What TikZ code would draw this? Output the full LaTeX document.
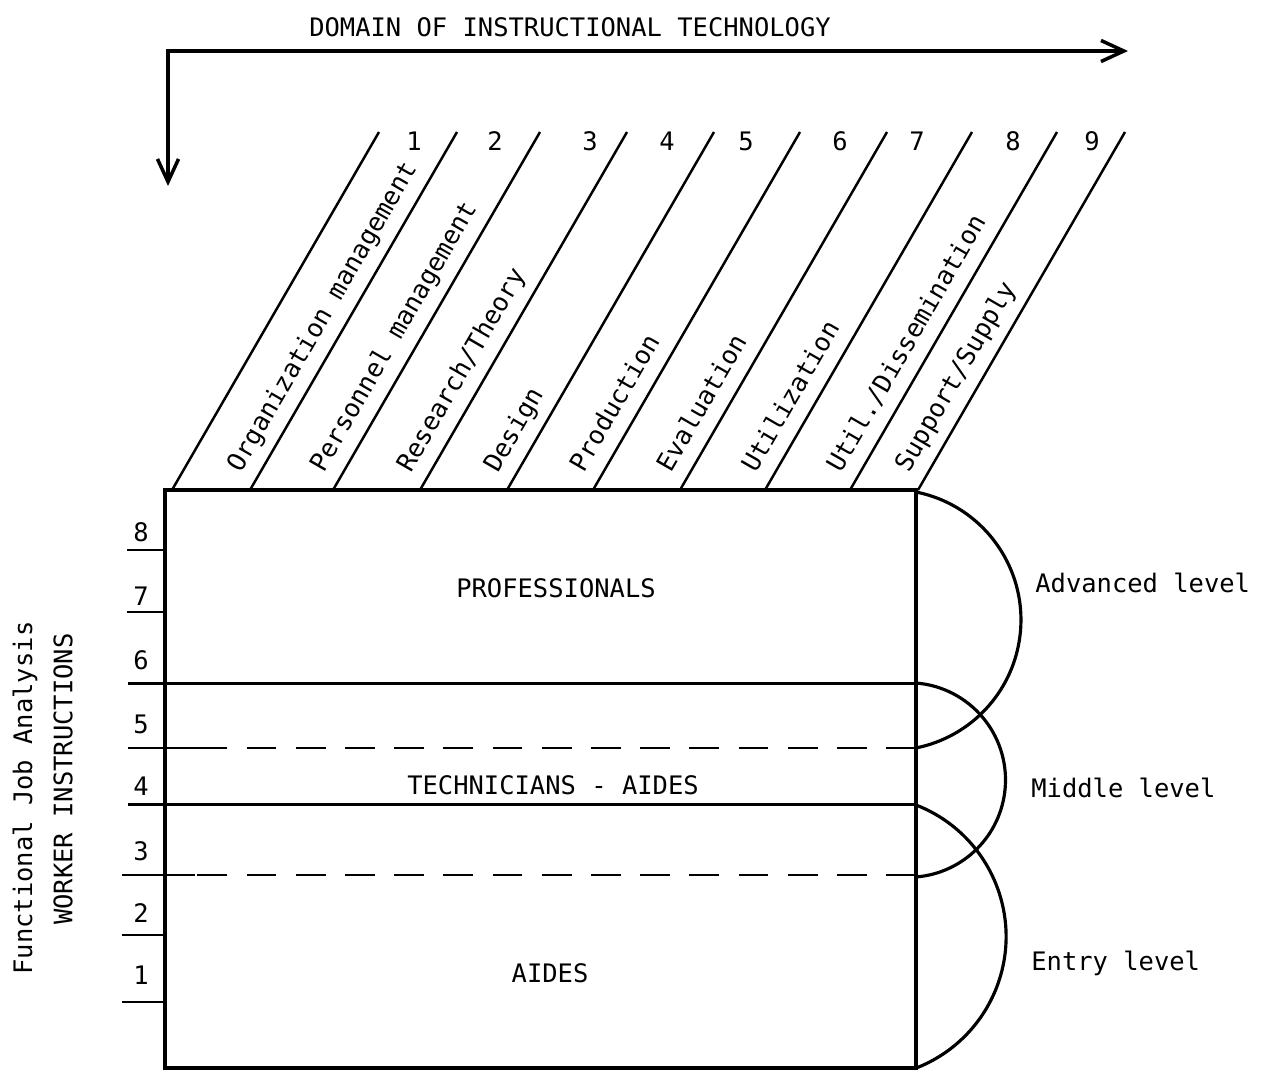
\documentclass[tikz,border=0pt]{standalone}
\usepackage{fontspec}
\newfontfamily\tw{DejaVu Sans Mono}
\usetikzlibrary{arrows.meta,calc}
\begin{document}
\begin{tikzpicture}[x=0.02cm,y=-0.02cm,
  txt/.style={font=\tw\fontsize{14.5}{17}\selectfont, inner sep=0pt},
  strip/.style={line width=1.4pt},
  frame/.style={line width=2.4pt},
  divider/.style={line width=1.7pt},
  dashdiv/.style={line width=1.6pt, dash pattern=on 17pt off 11pt},
  tick/.style={line width=1.6pt},
  bracket/.style={line width=1.8pt},
  axis/.style={line width=2.2pt, line join=miter,
    {Straight Barb[length=13pt,width=12pt,line width=2pt]}-{Straight Barb[length=13pt,width=12pt,line width=2pt]}},
  lab/.style={txt, rotate=60, anchor=base west},
]
\useasboundingbox (0,0) rectangle (1267,1072);
\fill[white] (0,0) rectangle (1267,1072);

% domain axes
\coordinate (corner) at (168,51);
\coordinate (xend) at (1128,51);
\coordinate (yend) at (168,186);
\draw[axis] (yend) -- (corner) -- (xend);
\node[txt] (title) at (570,27) {DOMAIN OF INSTRUCTIONAL TECHNOLOGY};

% slanted strips of the domain
\foreach \i/\b in {1/172,2/250,3/333,4/420,5/507,6/593,7/680,8/765,9/850,10/918}{
  \coordinate (b\i) at (\b,490);
  \coordinate (t\i) at (\b+207,132);
  \draw[strip] (b\i) -- (t\i);
}
\foreach \n/\x in {1/414,2/495,3/590,4/667,5/746,6/840,7/917,8/1013,9/1092}{
  \node[txt] (n\n) at (\x,141) {\n};
}
\node[lab] (c1) at ($(b2)+(-9.3,-16)$) {Organization management};
\node[lab] (c2) at ($(b3)+(-9.3,-16)$) {Personnel management};
\node[lab] (c3) at ($(b4)+(-9.3,-16)$) {Research/Theory};
\node[lab] (c4) at ($(b5)+(-9.3,-16)$) {Design};
\node[lab] (c5) at ($(b6)+(-9.3,-16)$) {Production};
\node[lab] (c6) at ($(b7)+(-9.3,-16)$) {Evaluation};
\node[lab] (c7) at ($(b8)+(-9.3,-16)$) {Utilization};
\node[lab] (c8) at ($(b9)+(-9.3,-16)$) {Util./Dissemination};
\node[lab] (c9) at ($(b10)+(-9.3,-16)$) {Support/Supply};

% worker levels box
\draw[frame] (165,490) rectangle (916,1068);
\draw[divider] (128,683) -- (916,683);
\draw[divider] (128,804) -- (916,804);
\draw[tick] (128,748) -- (200,748);
\draw[dashdiv] (916,748) -- (200,748);
\draw[tick] (122,875) -- (195,875);
\draw[dashdiv] (916,875) -- (195,875);
\draw[tick] (127,550) -- (165,550);
\draw[tick] (127,612) -- (165,612);
\draw[tick] (122,935) -- (165,935);
\draw[tick] (122,1002) -- (165,1002);

\foreach \n/\y in {8/532,7/596,6/660,5/724,4/786,3/851,2/913,1/975}{
  \node[txt] (w\n) at (141,\y) {\n};
}

\node[txt] (pro) at (556,588) {PROFESSIONALS};
\node[txt] (tech) at (553,785) {TECHNICIANS - AIDES};
\node[txt] (aid) at (550,973) {AIDES};

% level brackets
\draw[bracket] (916,492) arc[start angle=-78.7, end angle=78.7, radius=130.5];
\draw[bracket] (916,683) arc[start angle=-85.4, end angle=85.4, radius=97.3];
\draw[bracket] (916,805) arc[start angle=-68.8, end angle=68.8, radius=141.1];
\node[txt, anchor=west] (adv) at (1035,583) {Advanced level};
\node[txt, anchor=west] (mid) at (1031,788) {Middle level};
\node[txt, anchor=west] (ent) at (1031,963) {Entry level};

% vertical axis captions
\node[txt, rotate=90] (fja) at (25,798) {Functional Job Analysis};
\node[txt, rotate=90] (wi) at (63,779) {WORKER INSTRUCTIONS};
\end{tikzpicture}
\end{document}
